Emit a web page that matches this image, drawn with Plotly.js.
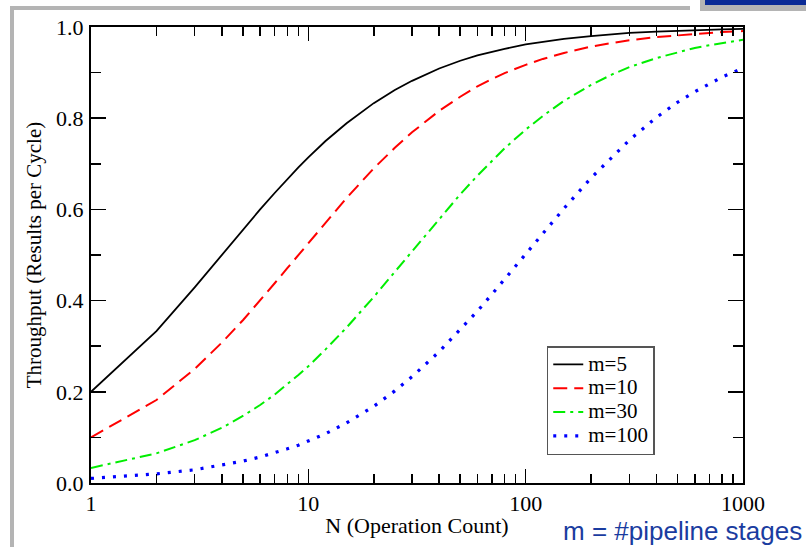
<!DOCTYPE html>
<html>
<head>
<meta charset="utf-8">
<script src="https://cdn.plot.ly/plotly-3.0.1.min.js"></script>
<style>
  html, body { margin: 0; padding: 0; background: #fff; }
  #wrap { position: relative; width: 806px; height: 547px; overflow: hidden; }
  #chart { position: absolute; left: 0; top: 0; width: 806px; height: 547px; }
  .deco { position: absolute; z-index: 5; }
</style>
</head>
<body>
<div id="wrap">
  <div id="chart"></div>
  <div class="deco" style="left:10px;top:6px;width:680px;height:4px;background:#b4b4b4;"></div>
  <div class="deco" style="left:10px;top:6px;width:4px;height:541px;background:#b4b4b4;"></div>
  <div class="deco" style="left:700px;top:0px;width:106px;height:11px;background:#b4b4b4;"></div>
  <div class="deco" style="left:705px;top:0px;width:101px;height:5px;background:#0a2a96;"></div>
</div>
<script>
// Operation count N
var nValues = [1,2,3,4,5,6,7,8,9,10,12,15,20,25,30,40,50,60,70,80,100,120,150,200,250,300,400,500,600,700,800,1000];
// Throughput
var m5 = [0.200,0.333,0.429,0.500,0.556,0.600,0.636,0.667,0.692,0.714,0.750,0.789,0.833,0.862,0.882,0.909,0.926,0.938,0.946,0.952,0.962,0.968,0.974,0.980,0.984,0.987,0.990,0.992,0.993,0.994,0.995,0.996];
var m10 = [0.100,0.182,0.250,0.308,0.357,0.400,0.438,0.471,0.500,0.526,0.571,0.625,0.690,0.735,0.769,0.816,0.847,0.870,0.886,0.899,0.917,0.930,0.943,0.957,0.965,0.971,0.978,0.982,0.985,0.987,0.989,0.991];
var m30 = [0.033,0.065,0.094,0.121,0.147,0.171,0.194,0.216,0.237,0.256,0.293,0.341,0.408,0.463,0.508,0.580,0.633,0.674,0.707,0.734,0.775,0.805,0.838,0.873,0.896,0.912,0.932,0.945,0.954,0.960,0.965,0.972];
var m100 = [0.010,0.020,0.029,0.039,0.048,0.057,0.066,0.075,0.083,0.092,0.108,0.132,0.168,0.202,0.233,0.288,0.336,0.377,0.414,0.447,0.503,0.548,0.602,0.669,0.716,0.752,0.802,0.835,0.858,0.876,0.890,0.910];
var seriesNames = ['m=5','m=10','m=30','m=100'];

var xMajor = [1,10,100,1000];
var xMajorText = ['1','10','100','1000'];
var xMinor = [2,3,4,5,6,7,8,9,20,30,40,50,60,70,80,90,200,300,400,500,600,700,800,900];

var serif = 'Liberation Serif';

function legendName(s) { return '<span style="font-size:21px">' + s + '</span>'; }

var traces = [
  {x: nValues, y: m5, name: legendName(seriesNames[0]), mode: 'lines', line: {color: '#000000', width: 1.8}},
  {x: nValues, y: m10, name: legendName(seriesNames[1]), mode: 'lines', line: {color: '#ff0000', width: 2, dash: '14px,7px'}},
  {x: nValues, y: m30, name: legendName(seriesNames[2]), mode: 'lines', line: {color: '#00ee00', width: 2, dash: '12px,5px,3px,5px'}},
  {x: nValues, y: m100, name: legendName(seriesNames[3]), mode: 'lines', line: {color: '#0000ff', width: 3.2, dash: '3px,8px'}}
];

var layout = {
  width: 806, height: 547,
  margin: {l: 91, r: 63, t: 27, b: 64, pad: 0},
  paper_bgcolor: '#ffffff', plot_bgcolor: '#ffffff',
  font: {family: serif, size: 22, color: '#000'},
  showlegend: true,
  legend: {
    x: 0.699, y: 0.3004, xanchor: 'left', yanchor: 'top',
    bgcolor: '#ffffff', bordercolor: '#555555', borderwidth: 1.5,
    font: {family: serif, size: 16, color: '#000'},
    tracegroupgap: 0, itemwidth: 30
  },
  xaxis: {
    type: 'log', range: [0, 3],
    showgrid: false, zeroline: false,
    showline: true, linecolor: '#000', linewidth: 2, mirror: 'allticks',
    ticks: 'inside', ticklen: 14, tickwidth: 1.5, tickcolor: '#000',
    tickmode: 'array', tickvals: xMajor, ticktext: xMajorText,
    tickfont: {family: serif, size: 22},
    minor: {ticks: 'inside', ticklen: 9, tickwidth: 1.5, tickcolor: '#000', tickvals: xMinor, showgrid: false},
    title: {text: 'N (Operation Count)', font: {family: serif, size: 22}, standoff: 2}
  },
  yaxis: {
    range: [0, 1],
    showgrid: false, zeroline: false,
    showline: true, linecolor: '#000', linewidth: 2, mirror: 'allticks',
    ticks: 'inside', ticklen: 15, tickwidth: 1.5, tickcolor: '#000',
    dtick: 0.2, tick0: 0, tickformat: '.1f',
    ticklabelstandoff: 1,
    tickfont: {family: serif, size: 22},
    minor: {ticks: 'inside', ticklen: 10, tickwidth: 1.5, tickcolor: '#000', dtick: 0.1, showgrid: false},
    title: {text: 'Throughput (Results per Cycle)', font: {family: serif, size: 21}, standoff: 9}
  },
  annotations: [{
    xref: 'paper', yref: 'paper', x: 1.0935, y: -0.105, xanchor: 'right', yanchor: 'middle',
    text: 'm = #pipeline stages', showarrow: false,
    font: {family: 'Liberation Sans', size: 26, color: '#1a3ca0'}
  }]
};

Plotly.newPlot('chart', traces, layout, {displayModeBar: false, staticPlot: true});
</script>
</body>
</html>
